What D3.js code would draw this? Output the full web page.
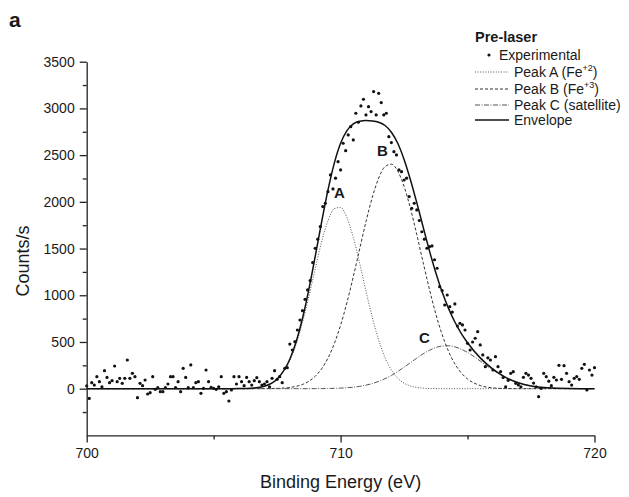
<!DOCTYPE html>
<html>
<head>
<meta charset="utf-8">
<script src="https://cdn.jsdelivr.net/npm/d3@7"></script>
<style>
  body { margin: 0; background: #fff; }
  text { font-family: Arial, "Liberation Sans", sans-serif; fill: #1a1a1a; }
</style>
</head>
<body>
<div id="chart"></div>
<script>
// Chart size and plot box
var width = 629;
var height = 497;
var plot = { left: 86.7, right: 594.5, top: 61.7, bottom: 435.4 };

// Experimental scan: one point every 0.1 eV from 700 eV
var expStart = 700;
var expStep = 0.1;
var expCounts = [
  30, -104, 64, 39, 129, 75, 21, 193, 121, 64,
  86, 243, 75, 111, 57, 111, 307, 111, 164, 129,
  -96, 57, 32, 93, -57, -43, 129, -7, 11, -32,
  -32, 11, 50, 129, 129, 11, 75, -32, 218, 121,
  11, 254, 11, 64, 75, -50, 4, 200, 75, 14,
  4, -7, 21, 129, -50, -32, -132, -14, 129, 50,
  129, 75, 32, 121, 75, 39, 86, 118, 75, 39,
  50, 75, 21, 111, 193, 100, 129, 64, 218, 225,
  478, 414, 503, 628, 735, 835, 957, 1057, 1157, 1350,
  1503, 1600, 1735, 1949, 1985, 2109, 2288, 2138, 2253, 2430,
  2342, 2627, 2548, 2716, 2805, 2663, 2948, 2852, 3027, 3098,
  2930, 3019, 2966, 3180, 2930, 3162, 3062, 2930, 2948, 2698,
  2634, 2537, 2502, 2342, 2323, 2234, 2253, 2056, 1931, 1985,
  1913, 1800, 1680, 1600, 1503, 1520, 1528, 1380, 1289, 1092,
  1050, 896, 1003, 878, 820, 907, 671, 700, 682, 628,
  486, 414, 500, 540, 610, 468, 361, 236, 330, 307,
  200, 343, 236, 182, 120, 21, 90, 164, 182, 57,
  40, 21, 122, 164, 146, 111, 60, 21, -86, 4,
  164, 129, 80, 32, 122, 93, 250, 100, 246, 164,
  75, 39, 111, 130, 100, 218, 261, -14, 200, 146,
  225
];

// Fitted components, read at these energies
var fitEnergy = [700, 704, 705, 705.5, 706, 706.5, 707, 707.5, 708,
  708.25, 708.5, 708.75, 709, 709.25, 709.5, 709.75, 710, 710.25, 710.5,
  710.75, 711, 711.25, 711.5, 711.75, 712, 712.25, 712.5, 712.75, 713,
  713.25, 713.5, 713.75, 714, 714.25, 714.5, 714.75, 715,
  715.5, 716, 716.5, 717, 717.5, 718, 719, 720];
var peakA = [0, 0, 0, 0, 1, 5, 25, 100, 302,
  478, 709, 985, 1283, 1568, 1795, 1927, 1940, 1830, 1619,
  1343, 1044, 761, 520, 333, 200, 113, 59, 29, 14,
  6, 2, 1, 0, 0, 0, 0, 0,
  0, 0, 0, 0, 0, 0, 0, 0];
var peakB = [0, 0, 0, 0, 0, 0, 1, 3, 13,
  25, 45, 79, 132, 212, 326, 481, 680, 922, 1199,
  1495, 1788, 2050, 2254, 2377, 2403, 2330, 2165, 1930, 1650,
  1352, 1062, 800, 578, 401, 266, 170, 104,
  34, 9, 2, 0, 0, 0, 0, 0];
var peakC = [0, 0, 0, 0, 0, 0, 0, 0, 0,
  0, 0, 0, 1, 1, 2, 4, 6, 10, 16,
  25, 38, 55, 78, 107, 142, 184, 230, 278, 327,
  373, 411, 440, 457, 459, 448, 423, 388,
  296, 200, 119, 63, 29, 12, 1, 0];
var envelope = [0, 0, 0, 0, 1, 5, 26, 103, 315,
  503, 754, 1064, 1416, 1781, 2123, 2412, 2626, 2762, 2834,
  2863, 2870, 2866, 2852, 2817, 2745, 2627, 2454, 2237, 1991,
  1731, 1475, 1241, 1035, 860, 714, 593, 492,
  330, 209, 121, 63, 29, 12, 1, 0];

// Ticks
var xMajorTicks = [700, 710, 720];
var xMinorTicks = [705, 715];
var yMajorTicks = [0, 500, 1000, 1500, 2000, 2500, 3000, 3500];
var yMinorTicks = [-250, 250, 750, 1250, 1750, 2250, 2750, 3250];

// Peak labels: letter, energy, counts
var peakLetters = ["A", "B", "C"];
var peakLetterE = [709.95, 711.65, 713.3];
var peakLetterY = [2100, 2550, 550];

var svg = d3.select("#chart")
  .append("svg")
  .attr("width", width)
  .attr("height", height);

var x = d3.scaleLinear().domain([700, 720]).range([plot.left, plot.right]);
var y = d3.scaleLinear().domain([-500, 3500]).range([plot.bottom, plot.top]);

// Styles for each fitted line
var series = [
  { name: "peakA", values: peakA, color: "#555", width: 1, dash: "1,1.6" },
  { name: "peakB", values: peakB, color: "#333", width: 1, dash: "3,2" },
  { name: "peakC", values: peakC, color: "#555", width: 1, dash: "5,1.5,1,1.5" },
  { name: "envelope", values: envelope, color: "#111", width: 1.5, dash: null }
];

var line = d3.line()
  .x(function (d) { return x(d[0]); })
  .y(function (d) { return y(d[1]); })
  .curve(d3.curveMonotoneX);

series.forEach(function (s) {
  svg.append("path")
    .datum(fitEnergy.map(function (e, i) { return [e, s.values[i]]; }))
    .attr("fill", "none")
    .attr("stroke", s.color)
    .attr("stroke-width", s.width)
    .attr("stroke-dasharray", s.dash)
    .attr("d", line);
});

// Experimental points
svg.selectAll(".exp")
  .data(expCounts)
  .enter().append("circle")
  .attr("class", "exp")
  .attr("cx", function (d, i) { return x(expStart + i * expStep); })
  .attr("cy", function (d) { return y(d); })
  .attr("r", 1.6)
  .attr("fill", "#111");

// Axes
function styleAxis(g) {
  g.attr("font-size", 14)
    .attr("font-family", "Arial, 'Liberation Sans', sans-serif");
  g.select(".domain").attr("stroke", "#222").attr("stroke-width", 1.3);
  g.selectAll(".tick line").attr("stroke", "#222").attr("stroke-width", 1.3);
  g.selectAll(".tick text").attr("fill", "#1a1a1a");
}

svg.append("g")
  .attr("transform", "translate(0," + plot.bottom + ")")
  .call(d3.axisBottom(x).tickValues(xMajorTicks).tickFormat(d3.format("d"))
    .tickSize(7).tickPadding(6).tickSizeOuter(0))
  .call(styleAxis);

svg.append("g")
  .attr("transform", "translate(0," + plot.bottom + ")")
  .call(d3.axisBottom(x).tickValues(xMinorTicks).tickSize(4).tickFormat(""))
  .call(styleAxis)
  .select(".domain").remove();

svg.append("g")
  .attr("transform", "translate(" + plot.left + ",0)")
  .call(d3.axisLeft(y).tickValues(yMajorTicks).tickFormat(d3.format("d"))
    .tickSize(7).tickPadding(5).tickSizeOuter(0))
  .call(styleAxis);

svg.append("g")
  .attr("transform", "translate(" + plot.left + ",0)")
  .call(d3.axisLeft(y).tickValues(yMinorTicks).tickSize(4).tickFormat(""))
  .call(styleAxis)
  .select(".domain").remove();

// Axis titles
svg.append("text")
  .attr("x", (plot.left + plot.right) / 2)
  .attr("y", 488)
  .attr("text-anchor", "middle")
  .style("font-size", "18px")
  .text("Binding Energy (eV)");

svg.append("text")
  .attr("transform", "translate(23," + 261 + ") rotate(-90)")
  .attr("text-anchor", "middle")
  .attr("dy", "0.35em")
  .style("font-size", "18px")
  .text("Counts/s");

// Panel letter
svg.append("text")
  .attr("x", 9)
  .attr("y", 27)
  .style("font-size", "21px")
  .style("font-weight", "bold")
  .text("a");

// Peak letters
svg.selectAll(".peak-label")
  .data(peakLetters)
  .enter().append("text")
  .attr("class", "peak-label")
  .attr("x", function (d, i) { return x(peakLetterE[i]); })
  .attr("y", function (d, i) { return y(peakLetterY[i]); })
  .attr("text-anchor", "middle")
  .attr("dy", "0.35em")
  .style("font-size", "15px")
  .style("font-weight", "bold")
  .text(function (d) { return d; });

// Legend
var legendX = 475;
var legendRows = [55, 72, 89, 105, 120];

svg.append("text")
  .attr("x", legendX)
  .attr("y", 41.5)
  .style("font-size", "14.5px")
  .style("font-weight", "bold")
  .text("Pre-laser");

svg.append("circle")
  .attr("cx", 489)
  .attr("cy", legendRows[0])
  .attr("r", 1.6)
  .attr("fill", "#111");

svg.append("text")
  .attr("x", 499)
  .attr("y", legendRows[0])
  .attr("dy", "0.35em")
  .style("font-size", "14px")
  .text("Experimental");

var legendItems = [
  { s: series[0], text: "Peak A (Fe", sup: "+2" },
  { s: series[1], text: "Peak B (Fe", sup: "+3" },
  { s: series[2], text: "Peak C (satellite)", sup: null },
  { s: series[3], text: "Envelope", sup: null }
];

legendItems.forEach(function (item, i) {
  var cy = legendRows[i + 1];
  svg.append("line")
    .attr("x1", legendX)
    .attr("x2", 509)
    .attr("y1", cy)
    .attr("y2", cy)
    .attr("stroke", item.s.color)
    .attr("stroke-width", item.s.width)
    .attr("stroke-dasharray", item.s.dash);

  var t = svg.append("text")
    .attr("x", 514)
    .attr("y", cy)
    .attr("dy", "0.35em")
    .style("font-size", "14px");
  t.append("tspan").text(item.text);
  if (item.sup) {
    t.append("tspan").attr("dy", -6).style("font-size", "9px").text(item.sup);
    t.append("tspan").attr("dy", 6).text(")");
  }
});
</script>
</body>
</html>
